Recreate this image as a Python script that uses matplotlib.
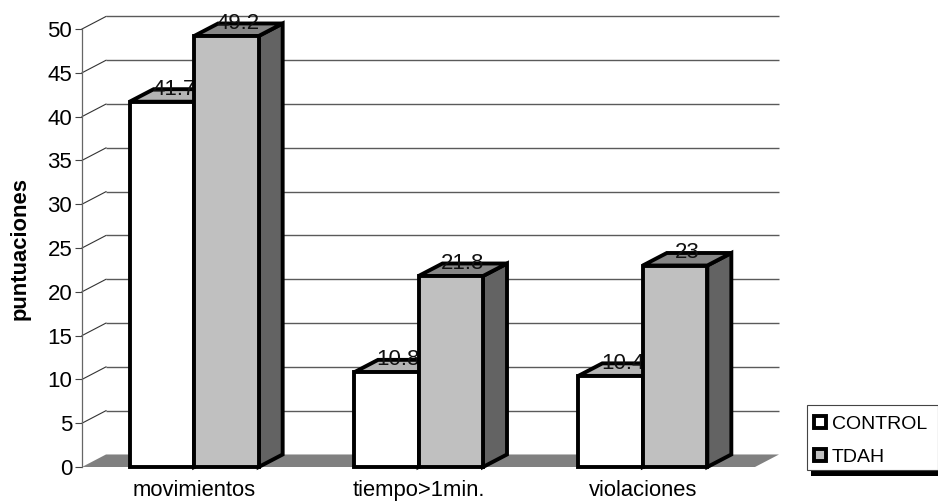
#!/usr/bin/env python
import matplotlib
matplotlib.use('Agg')
import matplotlib.pyplot as plt
from matplotlib.patches import Polygon, Patch, Rectangle

plt.rcParams['font.family'] = ['Liberation Sans', 'DejaVu Sans']

categories = ['movimientos', 'tiempo>1min.', 'violaciones']
control = [41.7, 10.8, 10.4]
tdah = [49.2, 21.8, 23]
y_ticks = [0, 5, 10, 15, 20, 25, 30, 35, 40, 45, 50]

# Layout in pixels of a 938 x 501 canvas
fig_w, fig_h = 938.0, 501.0
left, right = 82.0, 755.0
bottom, top = 467.0, 29.0

# Oblique projection offset and bar width, in data units
dx = 0.107
dy = 1.43
bar_w = 0.2875

line_grey = '#5a5a5a'
edge_lw = 2.8


def draw_bar(ax, x0, h, front, top_face, side, z):
    x1 = x0 + bar_w
    pts_side = [(x1, 0), (x1 + dx, dy), (x1 + dx, h + dy), (x1, h)]
    pts_top = [(x0, h), (x1, h), (x1 + dx, h + dy), (x0 + dx, h + dy)]
    pts_front = [(x0, 0), (x1, 0), (x1, h), (x0, h)]
    for pts, color in ((pts_side, side), (pts_top, top_face), (pts_front, front)):
        ax.add_patch(Polygon(pts, closed=True, facecolor=color, edgecolor='black',
                             linewidth=edge_lw, joinstyle='miter', clip_on=False,
                             zorder=z))
    ax.text(x0 + bar_w/2 + dx/2, h + dy, '%g' % h, ha='center', va='center',
            fontsize=16, color='#111111', zorder=z + 0.5, clip_on=False)


fig = plt.figure(figsize=(fig_w/100, fig_h/100), dpi=100, facecolor='white')
ax = fig.add_axes([left/fig_w, (fig_h - bottom)/fig_h,
                   (right - left)/fig_w, (bottom - top)/fig_h])
ax.patch.set_visible(False)
ax.set_xlim(0, len(categories))
ax.set_ylim(0, 50)

# back wall gridlines and the short slanted lines joining them to the axis
for v in y_ticks[1:]:
    ax.plot([dx, len(categories) + dx], [v + dy, v + dy], color=line_grey, lw=1.0,
            clip_on=False, zorder=1, solid_capstyle='butt')
    ax.plot([0, dx], [v, v + dy], color='#333333', lw=0.8, clip_on=False, zorder=1)

# floor
n = len(categories)
ax.add_patch(Polygon([(0, 0), (n, 0), (n + dx, dy), (dx, dy)], closed=True,
                     facecolor='#808080', edgecolor='none', clip_on=False, zorder=2))

for i in range(n):
    center = i + 0.5
    draw_bar(ax, center - bar_w, control[i], 'white', '#b4b4b4', '#808080', 3)
    draw_bar(ax, center, tdah[i], '#c0c0c0', '#868686', '#636363', 4)

# axes
for side in ('top', 'right', 'bottom'):
    ax.spines[side].set_visible(False)
ax.spines['left'].set_color('#666666')
ax.spines['left'].set_linewidth(0.9)
ax.set_yticks(y_ticks)
ax.tick_params(axis='y', length=5, width=0.8, color='#444444', pad=2, labelsize=16)
ax.set_xticks([i + 0.5 for i in range(n)])
ax.set_xticklabels(categories)
ax.tick_params(axis='x', length=0, pad=9.5, labelsize=15.8)
ax.set_ylabel('puntuaciones', fontsize=15.8, fontweight='bold', labelpad=12)

# legend box and its thick shadow along the bottom
fig.add_artist(Rectangle((811/fig_w, (fig_h - 476)/fig_h), (fig_w - 811)/fig_w, 8/fig_h,
                         transform=fig.transFigure, facecolor='black', edgecolor='none'))
fig.add_artist(Rectangle((807/fig_w, (fig_h - 470)/fig_h), (fig_w - 807)/fig_w, 65/fig_h,
                         transform=fig.transFigure, facecolor='white', edgecolor='#444444',
                         linewidth=0.8))
handles = [Patch(facecolor='white', edgecolor='black', linewidth=edge_lw, label='CONTROL'),
           Patch(facecolor='#c0c0c0', edgecolor='black', linewidth=edge_lw, label='TDAH')]
fig.legend(handles=handles, loc='upper left', bbox_to_anchor=(807/fig_w, (fig_h - 409)/fig_h),
           borderaxespad=0, fontsize=14, frameon=False, handlelength=0.62,
           handleheight=0.62, handletextpad=0.3, labelspacing=0.8, borderpad=0.35)

fig.savefig('out.png', dpi=100)
